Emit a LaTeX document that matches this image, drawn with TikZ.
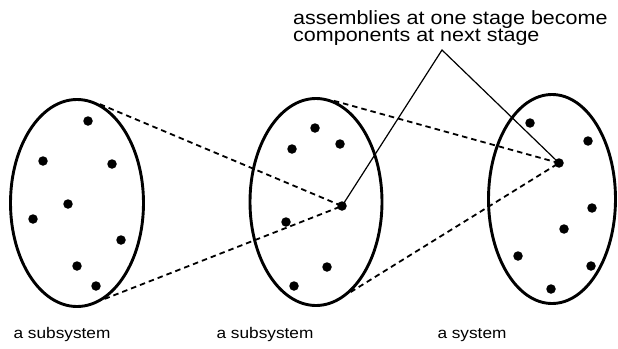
\documentclass[tikz,border=0pt]{standalone}
\usepackage{fontspec}
\newfontfamily\labelfont[FakeStretch=1.12]{Liberation Sans}
\usetikzlibrary{shapes.geometric, positioning}
\tikzstyle{stage} = [ellipse, draw=black, line width=2.9pt, inner sep=0pt]
\tikzstyle{part} = [circle, fill=black, inner sep=0pt, minimum size=9.5pt]
\tikzstyle{tieline} = [line width=1.8pt, dash pattern=on 5.5pt off 4pt]
\tikzstyle{pointer} = [line width=1.2pt]
\tikzstyle{caption} = [font=\labelfont\fontsize{15.4}{16}\selectfont, anchor=base, inner sep=0pt]
\tikzstyle{note} = [font=\labelfont\fontsize{19.2}{17.5}\selectfont, align=left, anchor=north west, inner sep=0pt]

\begin{document}
\begin{tikzpicture}[x=1pt, y=-1pt]
    \useasboundingbox (0,0) rectangle (618,348);

    % === STAGES ===
    \node[stage, minimum width=133pt, minimum height=207pt] (subA) at (77,203) {};
    \node[stage, minimum width=132pt, minimum height=207pt] (subB) at (316,202) {};
    \node[stage, minimum width=127pt, minimum height=209pt] (sys) at (552,199) {};

    % === PARTS ===
    \foreach \p [count=\i] in {(88,121), (43,161), (112,164), (68,204), (33,219), (121,240), (77,266), (96,286)}
        \node[part] (dotA\i) at \p {};
    \foreach \p [count=\i] in {(315,128), (292,149), (340,144), (286,222), (327,267), (294,286)}
        \node[part] (dotB\i) at \p {};
    \foreach \p [count=\i] in {(530,123), (588,141), (592,208), (564,229), (518,256), (591,266), (551,289)}
        \node[part] (dotC\i) at \p {};

    % assemblies of the previous stage
    \node[part] (hubB) at (342,206) {};
    \node[part] (hubC) at (559,163) {};

    % === TEXTS ===
    \node[note] (remark) at (293,10) {assemblies at one stage become\\components at next stage};
    \coordinate (peak) at (442,50);

    \node[caption] (capA) at (62,338) {a subsystem};
    \node[caption] (capB) at (265,338) {a subsystem};
    \node[caption] (capC) at (472,338) {a system};

    % ===== CONNECTORS =====
    \draw[tieline] (subA.77) -- (hubB.center);
    \draw[tieline] (subA.-74) -- (hubB.center);
    \draw[tieline] (subB.80) -- (hubC.center);
    \draw[tieline] (subB.-69) -- (hubC.center);

    \draw[pointer] (hubB.center) -- (peak) -- (hubC.center);
\end{tikzpicture}
\end{document}
